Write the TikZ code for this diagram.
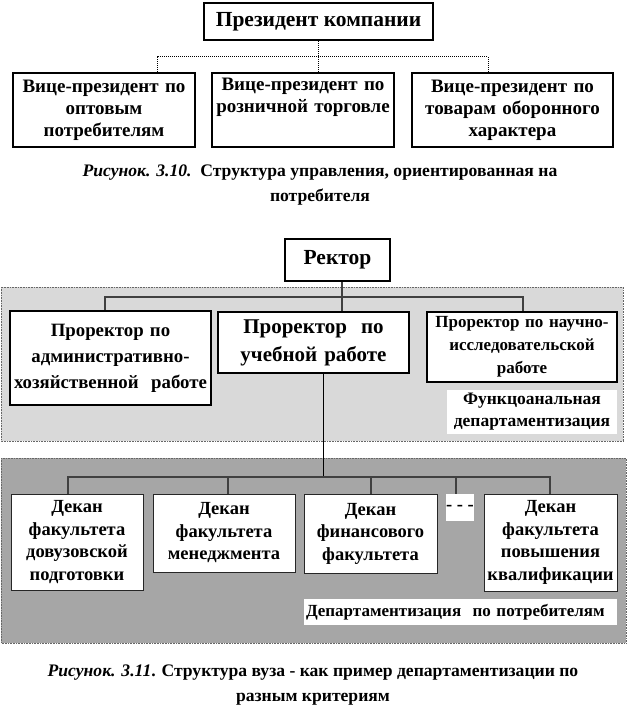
\documentclass[tikz,border=0pt]{standalone}
\usepackage{fontspec}
\setmainfont{Liberation Serif}
\usetikzlibrary{positioning}

\begin{document}
\begin{tikzpicture}[x=1pt, y=-1pt,
    bigbox/.style={draw, line width=2.4pt, fill=white, align=center, inner sep=0pt},
    deanbox/.style={draw=black!85, line width=1pt, fill=white, align=center, inner sep=0pt,
      font=\fontsize{18.5}{22.5}\selectfont\bfseries},
    tag/.style={fill=white, inner sep=0pt, align=center},
    dotline/.style={densely dotted, line width=1pt},
    busline/.style={line width=1.2pt, draw=black!75},
    zone/.style={draw=black!60, densely dotted, line width=0.6pt},
    caption/.style={align=center, font=\fontsize{17.6}{25}\selectfont\bfseries}]

    % Page
    \fill[white] (0,0) rectangle (627,714);
    \useasboundingbox (0,0) rectangle (627,714);

    % Figure 3.10
    \node[bigbox, minimum width=229, minimum height=37,
      font=\fontsize{21.5}{24}\selectfont\bfseries] (pres) at (318.5,21.5) {Президент компании};
    \node[bigbox, minimum width=182, minimum height=74, text width=178,
      font=\fontsize{19}{22}\selectfont\bfseries] (vp1) at (104,110) {Вице-президент по\\оптовым\\потребителям};
    \node[bigbox, minimum width=182, minimum height=74, text width=178,
      font=\fontsize{19}{22}\selectfont\bfseries] (vp2) at (303,110) {Вице-президент по\\розничной торговле\\\strut};
    \node[bigbox, minimum width=201, minimum height=74, text width=196,
      font=\fontsize{19}{22}\selectfont\bfseries] (vp3) at (512.5,110) {Вице-президент по\\товарам оборонного\\характера};

    \coordinate (j1) at (157,57);
    \coordinate (j2) at (318.5,57);
    \coordinate (j3) at (488,57);
    \draw[dotline] (pres.south) -- (j2) -- (j2 |- vp2.north);
    \draw[dotline] (j1 |- vp1.north) -- (j1) -- (j3) -- (j3 |- vp3.north);

    \node[caption] (cap1) at (320,185) {\textit{Рисунок. 3.10.}\ \ Структура управления, ориентированная на\\потребителя};

    % Figure 3.11: zones
    \draw[zone, fill=black!15] (1,287) rectangle (623,441);
    \draw[zone, fill=black!35] (1,458) rectangle (626,643);

    % Rector and prorectors
    \node[bigbox, minimum width=105, minimum height=42,
      font=\fontsize{21.5}{24}\selectfont\bfseries] (rector) at (337.5,260) {Ректор};
    \node[bigbox, line width=2.8pt, minimum width=201, minimum height=94, text width=199,
      font=\fontsize{18.8}{26}\selectfont\bfseries] (pr1) at (110.5,358) {Проректор по\\административно-\\хозяйственной\ \ работе};
    \node[bigbox, line width=2.8pt, minimum width=191, minimum height=61, text width=186,
      font=\fontsize{21}{28}\selectfont\bfseries] (pr2) at (313.5,342.5) {Проректор\ \ по\\учебной работе};
    \node[bigbox, line width=2.8pt, minimum width=190, minimum height=70, text width=186,
      font=\fontsize{17}{23}\selectfont\bfseries] (pr3) at (522,347) {Проректор по научно-\\исследовательской\\работе};
    \node[tag, minimum width=170, minimum height=44,
      font=\fontsize{17.5}{22}\selectfont\bfseries] (functag) at (532,412) {Функцоанальная\\департаментизация};

    \coordinate (k1) at (105,297);
    \coordinate (k2) at (342,297);
    \coordinate (k3) at (523,297);
    \draw[busline] (k2 |- rector.south) -- (k2) -- (k2 |- pr2.north);
    \draw[busline] (k1 |- pr1.north) -- (k1) -- (k3) -- (k3 |- pr3.north);

    % Deans
    \node[deanbox, minimum width=132, minimum height=96, text width=130] (d1) at (77,542) {Декан\\факультета\\довузовской\\подготовки};
    \node[deanbox, minimum width=142, minimum height=78, text width=140] (d2) at (224,533) {Декан\\факультета\\менеджмента};
    \node[deanbox, minimum width=133, minimum height=79, text width=131] (d3) at (370.5,533.5) {Декан\\финансового\\факультета};
    \node[deanbox, draw=none, minimum width=28, minimum height=27] (d4) at (460,507.5) {- - -};
    \node[deanbox, minimum width=133, minimum height=97, text width=131] (d5) at (550.5,542.5) {Декан\\факультета\\повышения\\квалификации};
    \node[tag, minimum width=313, minimum height=26, text width=309, align=left,
      font=\fontsize{17}{22}\selectfont\bfseries] (custtag) at (460.5,612) {Департаментизация\ \ по потребителям};

    \coordinate (m0) at (323,477);
    \coordinate (m1) at (68,477);
    \coordinate (m5) at (550,477);
    \draw[line width=0.8pt] (m0 |- pr2.south) -- (m0);
    \draw[busline] (m1 |- d1.north) -- (m1) -- (m5) -- (m5 |- d5.north);
    \foreach \x/\d in {228/d2, 371/d3, 456/d4}
      \draw[busline] (\x,477) -- (\x,0 |- \d.north);

    \node[caption] (cap2) at (313,685) {\textit{Рисунок. 3.11}. Структура вуза - как пример департаментизации по\\разным критериям};
\end{tikzpicture}
\end{document}
